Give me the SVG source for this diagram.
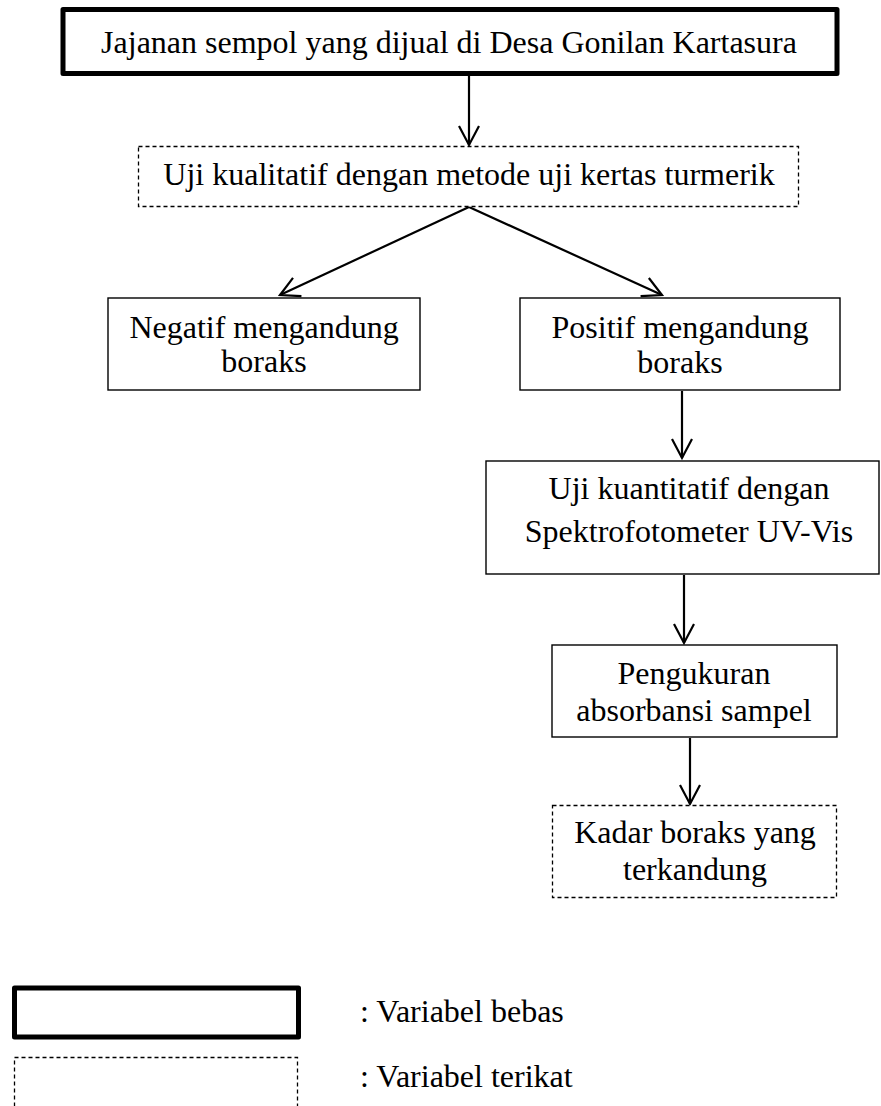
<svg xmlns="http://www.w3.org/2000/svg" width="881" height="1106" viewBox="0 0 881 1106">
<style>
text{font-family:"Liberation Serif","Times New Roman",serif;font-size:32px;fill:#000;text-anchor:middle}
.thick{fill:#fff;stroke:#000;stroke-width:5;stroke-linejoin:round}
.box{fill:#fff;stroke:#000;stroke-width:1.4}
.dash{fill:#fff;stroke:#000;stroke-width:1.3;stroke-dasharray:4 3}
.con{fill:none;stroke:#000;stroke-width:2.2;marker-end:url(#ah)}
.leg{text-anchor:start}
</style>
<defs>
<marker id="ah" markerUnits="userSpaceOnUse" markerWidth="40" markerHeight="40" viewBox="-20 -20 40 40" refX="0" refY="0" orient="auto" overflow="visible">
<path d="M-19,-10 L0,0 L-19,10" fill="none" stroke="#000" stroke-width="2.2" stroke-linejoin="miter"/>
</marker>
</defs>
<rect width="881" height="1106" fill="#fff"/>
<g id="connectors">
<line class="con" x1="469" y1="76" x2="469" y2="145"/>
<line class="con" x1="469" y1="207" x2="280" y2="295"/>
<line class="con" x1="469" y1="207" x2="662" y2="295"/>
<line class="con" x1="682" y1="391" x2="682" y2="458"/>
<line class="con" x1="684" y1="575" x2="684" y2="643"/>
<line class="con" x1="690" y1="738" x2="690" y2="804"/>
</g>
<g id="n1"><rect class="thick" x="63" y="9.5" width="774" height="64"/><text x="449" y="53">Jajanan sempol yang dijual di Desa Gonilan Kartasura</text></g>
<g id="n2"><rect class="dash" x="138.5" y="146.5" width="660" height="60"/><text x="469" y="185">Uji kualitatif dengan metode uji kertas turmerik</text></g>
<g id="n3"><rect class="box" x="108" y="298" width="312" height="92"/><text x="264" y="338">Negatif mengandung</text><text x="264" y="372">boraks</text></g>
<g id="n4"><rect class="box" x="520" y="298" width="320" height="92"/><text x="680" y="338">Positif mengandung</text><text x="680" y="373">boraks</text></g>
<g id="n5"><rect class="box" x="486" y="461" width="393" height="113"/><text x="689" y="499">Uji kuantitatif dengan</text><text x="689" y="542">Spektrofotometer UV-Vis</text></g>
<g id="n6"><rect class="box" x="552" y="645" width="285" height="92"/><text x="694" y="684">Pengukuran</text><text x="694" y="721">absorbansi sampel</text></g>
<g id="n7"><rect class="dash" x="552.5" y="805.5" width="284" height="92"/><text x="695" y="843">Kadar boraks yang</text><text x="695" y="880">terkandung</text></g>
<g id="legend">
<rect class="thick" x="14.5" y="988" width="284" height="49"/>
<text class="leg" x="360" y="1022">: Variabel bebas</text>
<rect class="dash" x="14.5" y="1057.5" width="283" height="60"/>
<text class="leg" x="360" y="1087">: Variabel terikat</text>
</g>
</svg>
